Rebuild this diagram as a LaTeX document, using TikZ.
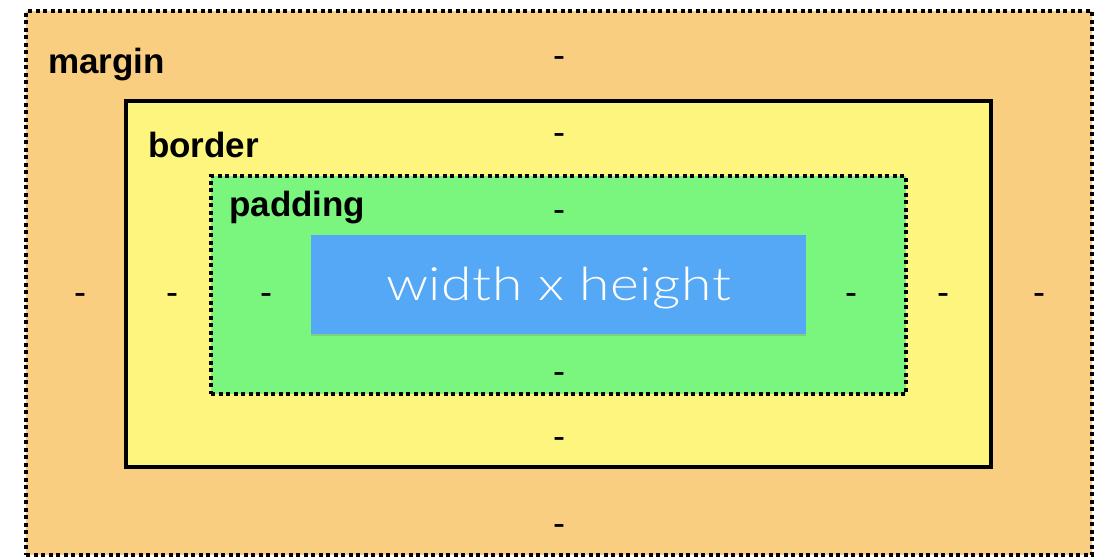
\documentclass[tikz,border=0pt]{standalone}
\usepackage{fontspec}
\setmainfont{Liberation Sans}
\newfontfamily\thinfont[LetterSpace=1]{Lato Light}
\usetikzlibrary{shadows}
\definecolor{marginfill}{RGB}{249,206,128}
\definecolor{borderfill}{RGB}{253,245,125}
\definecolor{paddingfill}{RGB}{122,245,125}
\definecolor{contentfill}{RGB}{85,168,245}
\tikzset{
  lbl/.style={font=\fontsize{35}{38}\selectfont\bfseries, anchor=base west, inner sep=0pt},
  gap/.style={font=\fontsize{36}{40}\selectfont, anchor=base, inner sep=0pt},
  dotbox/.style={draw, line width=4pt, dash pattern=on 4pt off 3.5pt, inner sep=0pt}
}
\begin{document}
\begin{tikzpicture}[x=1pt,y=-1pt]
        \useasboundingbox (0,0) rectangle (1105,558);
        \node[dotbox, fill=marginfill, minimum width=1066pt, minimum height=544pt] (margin) at (559,283) {};
        \node[draw, line width=3.5pt, fill=borderfill, minimum width=865pt, minimum height=366pt, inner sep=0pt,
              drop shadow={shadow xshift=2pt, shadow yshift=-2pt, opacity=0.25}] (border) at (558.5,284) {};
        \node[dotbox, fill=paddingfill, minimum width=695pt, minimum height=218pt] (padding) at (558.5,285) {};
        \node[fill=contentfill, minimum width=495pt, minimum height=99pt, inner sep=0pt,
              drop shadow={shadow xshift=0pt, shadow yshift=-2pt, opacity=0.3}] (content) at (558.5,284.5) {};
        \node[anchor=base, inner sep=0pt] (size) at (558.5,300)
              {\scalebox{1.2}[1]{\color{white}\thinfont\fontsize{46}{50}\selectfont width x height}};

        \node[lbl] (mlbl) at (48,73) {margin};
        \node[lbl] (blbl) at (148,157) {border};
        \node[lbl] (plbl) at (229,216) {padding};

        \node[gap] (mt) at (559,67) {-};
        \node[gap] (bt) at (559,144) {-};
        \node[gap] (pt) at (559,221) {-};
        \node[gap] (pb) at (559,383) {-};
        \node[gap] (bb) at (559,448) {-};
        \node[gap] (mb) at (559,535) {-};
        \node[gap] (ml) at (80,304) {-};
        \node[gap] (bl) at (172,304) {-};
        \node[gap] (pl) at (266,304) {-};
        \node[gap] (pr) at (851,304) {-};
        \node[gap] (br) at (943,304) {-};
        \node[gap] (mr) at (1039,304) {-};
    \end{tikzpicture}
\end{document}
